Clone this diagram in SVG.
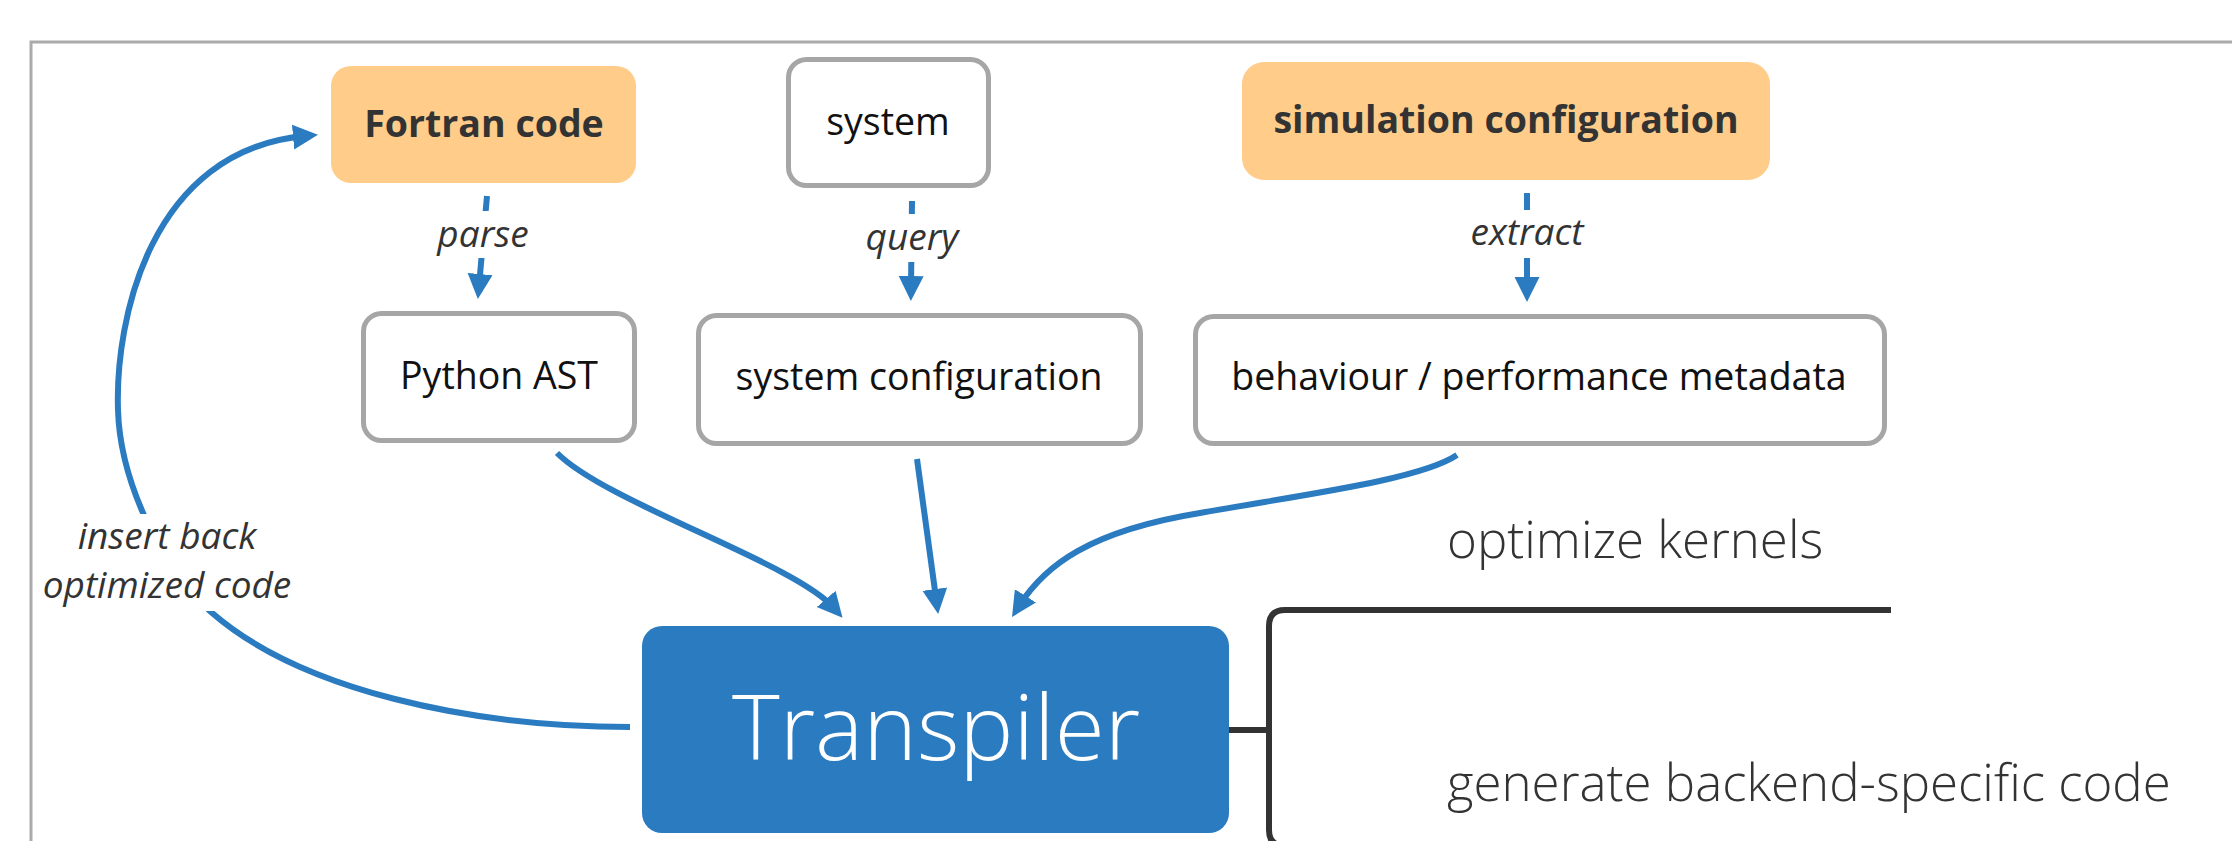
<svg xmlns="http://www.w3.org/2000/svg" width="2232" height="841" viewBox="0 0 2232 841">
  <style>
    .frame { fill: none; stroke: #ABABAB; stroke-width: 3; }
    .hl { fill: #FFCC8A; }
    .plain { fill: #FFFFFF; stroke: #A6A6A6; stroke-width: 5; }
    .core { fill: #2B7BC1; }
    .t { font-family: "Open Sans", "Noto Sans", "Liberation Sans", sans-serif; text-anchor: middle; }
    .bold { font-weight: 700; font-size: 37.5px; fill: #333333; }
    .node { font-size: 37.5px; fill: #111111; }
    .big { font-size: 91px; fill: #FFFFFF; font-weight: 300; }
    .lbl { font-style: italic; font-size: 37px; fill: #333333; }
    .side { font-family: "Open Sans", "Noto Sans", "Liberation Sans", sans-serif; font-size: 51px; font-weight: 300; fill: #333333; }
    .edge { fill: none; stroke: #2B7BC1; stroke-width: 6; }
    .tree { fill: none; stroke: #333333; stroke-width: 6; }
    .lblbg { fill: #FFFFFF; }
  </style>
  <defs>
    <marker id="arr" markerUnits="userSpaceOnUse" viewBox="0 -13 25 26" markerWidth="25" markerHeight="26" refX="12" refY="0" orient="auto">
      <path d="M0,-12.5 L25,0 L0,12.5 z" fill="#2B7BC1"/>
    </marker>
  </defs>

  <rect class="frame" x="31" y="42" width="2240" height="900"/>

  <g id="connectors">
    <g id="e-parse">
      <path class="edge" d="M487,196 L479,286" marker-end="url(#arr)"/>
      <rect class="lblbg" x="432" y="211" width="102" height="47"/>
      <text class="t lbl" x="483" y="247">parse</text>
    </g>
    <g id="e-query">
      <path class="edge" d="M912,201 L911,288" marker-end="url(#arr)"/>
      <rect class="lblbg" x="860" y="214" width="104" height="48"/>
      <text class="t lbl" x="912" y="250">query</text>
    </g>
    <g id="e-extract">
      <path class="edge" d="M1527,193 L1527,289" marker-end="url(#arr)"/>
      <rect class="lblbg" x="1464" y="210" width="126" height="48"/>
      <text class="t lbl" x="1527" y="245">extract</text>
    </g>
    <path id="e-ast" class="edge" d="M557,453 C607,503 795,563 834,608" marker-end="url(#arr)"/>
    <path id="e-syscfg" class="edge" d="M917,459 L936.4,601" marker-end="url(#arr)"/>
    <path id="e-meta" class="edge" d="M1457,455 C1420,480 1300,495 1200,513 C1090,531 1045,565 1019,606" marker-end="url(#arr)"/>
    <g id="e-back">
      <path class="edge" d="M630,727 C470,727 300,690 211,612 C161,568 120,480 118,410 C115,320 150,150 305,136" marker-end="url(#arr)"/>
      <rect class="lblbg" x="38" y="514" width="262" height="97"/>
      <text class="t lbl" x="167" y="549">insert back</text>
      <text class="t lbl" x="167" y="598">optimized code</text>
    </g>
    <g id="e-tree">
      <path class="tree" d="M1229,730 H1269"/>
      <path class="tree" d="M1891,610 H1285 Q1269,610 1269,626 V830 Q1269,846 1285,846 H1891"/>
    </g>
  </g>

  <g id="n-fortran">
    <rect class="hl" x="331" y="66" width="305" height="117" rx="20"/>
    <text class="t bold" x="484" y="137">Fortran code</text>
  </g>
  <g id="n-system">
    <rect class="plain" x="788.5" y="59.5" width="200" height="126" rx="18"/>
    <text class="t node" x="888" y="135">system</text>
  </g>
  <g id="n-simcfg">
    <rect class="hl" x="1242" y="62" width="528" height="118" rx="22"/>
    <text class="t bold" x="1506" y="133">simulation configuration</text>
  </g>
  <g id="n-ast">
    <rect class="plain" x="363.5" y="313.5" width="271" height="127" rx="18"/>
    <text class="t node" x="499" y="389">Python AST</text>
  </g>
  <g id="n-syscfg">
    <rect class="plain" x="698.5" y="315.5" width="442" height="128" rx="18"/>
    <text class="t node" x="919" y="390">system configuration</text>
  </g>
  <g id="n-meta">
    <rect class="plain" x="1195.5" y="316.5" width="689" height="127" rx="18"/>
    <text class="t node" x="1539" y="390">behaviour / performance metadata</text>
  </g>
  <g id="n-transpiler">
    <rect class="core" x="642" y="626" width="587" height="207" rx="20"/>
    <text class="t big" x="936" y="760">Transpiler</text>
  </g>
  <g id="n-optimize">
    <text class="side" x="1447" y="558">optimize kernels</text>
  </g>
  <g id="n-generate">
    <text class="side" x="1447" y="801">generate backend-specific code</text>
  </g>
</svg>
